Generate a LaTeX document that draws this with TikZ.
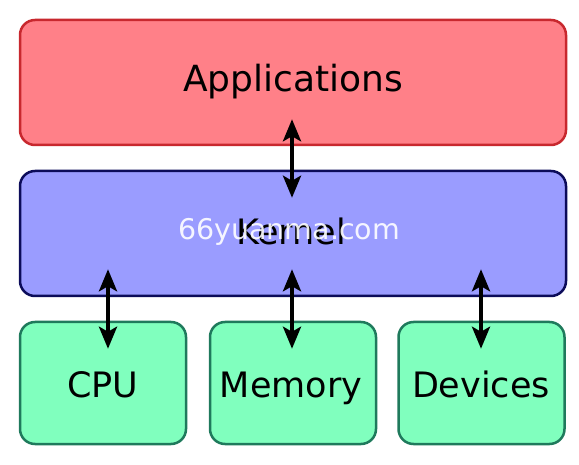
\documentclass[tikz,border=0pt]{standalone}
\usepackage{fontspec}
\setmainfont{DejaVu Sans}
\usetikzlibrary{arrows.meta}
\definecolor{appfill}{HTML}{FF8088}
\definecolor{appdraw}{HTML}{C8282E}
\definecolor{kernfill}{HTML}{9A9CFF}
\definecolor{kerndraw}{HTML}{0C0C5A}
\definecolor{hwfill}{HTML}{80FFBE}
\definecolor{hwdraw}{HTML}{1F7A5C}
\tikzset{
  layerbox/.style={rounded corners=15pt, line width=2.5pt, inner sep=0pt, minimum width=546pt, minimum height=125pt},
  hwbox/.style={rounded corners=15pt, line width=2.5pt, inner sep=0pt, minimum width=166pt, minimum height=122pt, draw=hwdraw, fill=hwfill},
  lbl/.style={anchor=base, inner sep=0pt, font=\fontsize{35pt}{40pt}\selectfont},
  arr/.style={line width=4pt, arrows={Stealth[length=22pt,width=18pt,inset=5pt]-Stealth[length=22pt,width=18pt,inset=5pt]}},
}
\begin{document}
\begin{tikzpicture}[x=1pt,y=-1pt]
\useasboundingbox (0,0) rectangle (579,465);
\node[layerbox, draw=appdraw, fill=appfill] (app) at (293,82.5) {};
\node[layerbox, draw=kerndraw, fill=kernfill] (kern) at (293,233.5) {};
\node[hwbox] (cpu) at (103,383) {};
\node[hwbox] (mem) at (293,383) {};
\node[hwbox] (dev) at (481.5,383) {};
\node[lbl, font=\fontsize{36pt}{40pt}\selectfont] (appt) at (293,92) {Applications};
\node[lbl] (kernt) at (291,245) {Kernel};
\node[lbl] (cput) at (103,398) {CPU};
\node[lbl] (memt) at (291,398) {Memory};
\node[lbl] (devt) at (481,398) {Devices};
\node[anchor=base, inner sep=0pt, text=white, opacity=0.9, font=\fontsize{28.5pt}{32pt}\selectfont] (wm) at (289,240) {66yuanma.com};
\draw[arr, shorten <=-27pt, shorten >=-28pt] ([xshift=-1pt]app.south) -- ([xshift=-1pt]app.south |- kern.north);
\draw[arr, shorten <=-28pt, shorten >=-28pt] ([xshift=5pt]cpu.north |- kern.south) -- ([xshift=5pt]cpu.north);
\draw[arr, shorten <=-28pt, shorten >=-28pt] ([xshift=-1pt]mem.north |- kern.south) -- ([xshift=-1pt]mem.north);
\draw[arr, shorten <=-28pt, shorten >=-28pt] ([xshift=-0.5pt]dev.north |- kern.south) -- ([xshift=-0.5pt]dev.north);
\end{tikzpicture}
\end{document}
